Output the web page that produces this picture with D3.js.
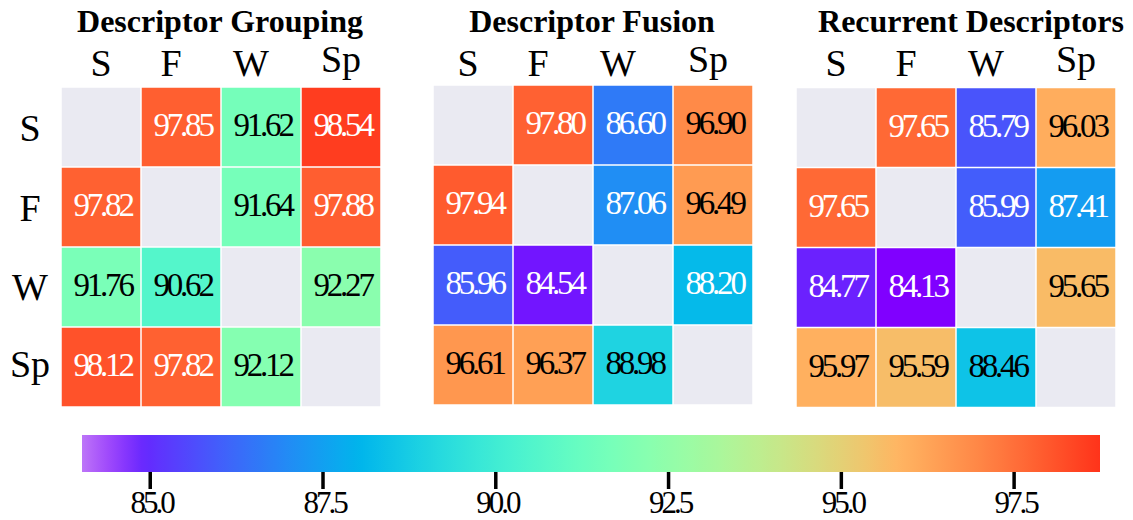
<!DOCTYPE html>
<html>
<head>
<meta charset="utf-8">
<script src="https://cdn.jsdelivr.net/npm/d3@7"></script>
<style>
  html, body { margin: 0; padding: 0; background: #fff; }
  svg { display: block; }
</style>
</head>
<body>
<svg id="chart" width="1133" height="520"></svg>
<script>
// ---- data ---------------------------------------------------------------
const descriptors = ["S", "F", "W", "Sp"];
const panelTitles = ["Descriptor Grouping", "Descriptor Fusion", "Recurrent Descriptors"];

// rows = first descriptor, columns = second descriptor; diagonal is empty
const groupingScores = [
  [null, 97.85, 91.62, 98.54],
  [97.82, null, 91.64, 97.88],
  [91.76, 90.62, null, 92.27],
  [98.12, 97.82, 92.12, null]
];
const fusionScores = [
  [null, 97.80, 86.60, 96.90],
  [97.94, null, 87.06, 96.49],
  [85.96, 84.54, null, 88.20],
  [96.61, 96.37, 88.98, null]
];
const recurrentScores = [
  [null, 97.65, 85.79, 96.03],
  [97.65, null, 85.99, 87.41],
  [84.77, 84.13, null, 95.65],
  [95.97, 95.59, 88.46, null]
];
const colorbarTicks = [85.0, 87.5, 90.0, 92.5, 95.0, 97.5];

// ---- colour scale ---------------------------------------------------------
const allScores = [groupingScores, fusionScores, recurrentScores];
const vmin = d3.min(allScores.flat(2).filter(v => v != null));
const vmax = 99.75;

// gnuplot-style "rainbow" ramp: purple -> blue -> cyan -> green -> orange -> red
function rainbow(t) {
  t = Math.max(0, Math.min(1, t));
  const r = Math.min(1, Math.abs(2 * t - 0.5));
  const g = Math.sin(Math.PI * t);
  const b = Math.cos(Math.PI * t / 2);
  return d3.rgb(r * 255, g * 255, b * 255).formatHex();
}
const color = d3.scaleSequential(rainbow).domain([vmin, vmax]).clamp(true);
const norm = d3.scaleLinear().domain([vmin, vmax]);

// ---- layout ---------------------------------------------------------------
const SERIF = "'Liberation Serif', 'Times New Roman', Times, serif";
const panelSize = 320;
const panelLayout = [
  { left: 61,  top: 87,   titleShift: -1, labelShift: 0,  rowLabels: true },
  { left: 433, top: 85,   titleShift: -1, labelShift: -5, rowLabels: false },
  { left: 796, top: 87.5, titleShift: 15, labelShift: 0,  rowLabels: false }
];
const colLabelNudge = [0, -10, -10, 0];
const emptyFill = "#eaeaf2";
const cbar = { x0: 82, x1: 1100, y: 435, h: 37, domain: [84.02, 98.75] };

const svg = d3.select("#chart");

// measure glyph ink so text can be centred on its visible extent
const mctx = document.createElement("canvas").getContext("2d");
function inkOffset(text, font) {
  mctx.font = font;
  const m = mctx.measureText(text);
  return (m.actualBoundingBoxAscent - m.actualBoundingBoxDescent) / 2;
}

const x = d3.scaleBand().domain(descriptors).range([0, panelSize]);
const y = d3.scaleBand().domain(descriptors).range([0, panelSize]);
const bw = x.bandwidth();
const fmt = d3.format(".2f");

const numFont = `33px ${SERIF}`;
const labelFont = `38px ${SERIF}`;
const titleFont = `bold 32px ${SERIF}`;

panelLayout.forEach((lay, p) => {
  const scores = allScores[p];
  const g = svg.append("g").attr("transform", `translate(${lay.left},${lay.top})`);

  const cells = [];
  scores.forEach((row, i) => row.forEach((v, j) => cells.push({ r: descriptors[i], c: descriptors[j], v })));

  g.selectAll("rect.cell").data(cells).join("rect")
    .attr("class", "cell")
    .attr("x", d => x(d.c) + 0.75)
    .attr("y", d => y(d.r) + 0.75)
    .attr("width", bw - 1.5)
    .attr("height", bw - 1.5)
    .attr("fill", d => d.v == null ? emptyFill : color(d.v));

  g.selectAll("text.val").data(cells.filter(d => d.v != null)).join("text")
    .attr("class", "val")
    .attr("x", d => x(d.c) + bw / 2 + 1.6)
    .attr("y", d => y(d.r) + bw / 2 + inkOffset(fmt(d.v), numFont) - 2)
    .attr("text-anchor", "middle")
    .style("font", numFont)
    .style("letter-spacing", "-3.2px")
    .attr("fill", d => { const t = norm(d.v); return (t < 0.27 || t > 0.84) ? "#ffffff" : "#000000"; })
    .text(d => fmt(d.v));

  // column headers
  g.selectAll("text.col").data(descriptors).join("text")
    .attr("class", "col")
    .attr("x", (d, j) => x(d) + bw / 2 + colLabelNudge[j] + lay.labelShift)
    .attr("y", d => 63.5 - lay.top + inkOffset(d, labelFont))
    .attr("text-anchor", "middle")
    .style("font", labelFont)
    .attr("fill", "#000")
    .text(d => d);

  // row headers on the first panel only
  if (lay.rowLabels) {
    g.selectAll("text.row").data(descriptors).join("text")
      .attr("class", "row")
      .attr("x", 30 - lay.left)
      .attr("y", d => y(d) + bw / 2 + 1 + inkOffset(d, labelFont))
      .attr("text-anchor", "middle")
      .style("font", labelFont)
      .attr("fill", "#000")
      .text(d => d);
  }

  // panel title
  g.append("text")
    .attr("x", panelSize / 2 + lay.titleShift)
    .attr("y", 32 - lay.top)
    .attr("text-anchor", "middle")
    .style("font", titleFont)
    .attr("fill", "#000")
    .text(panelTitles[p]);
});

// ---- colour bar -----------------------------------------------------------
const cbScale = d3.scaleLinear().domain(cbar.domain).range([cbar.x0, cbar.x1]);
const grad = svg.append("defs").append("linearGradient")
  .attr("id", "cbgrad").attr("x1", "0%").attr("x2", "100%").attr("y1", "0%").attr("y2", "0%");
const nStops = 120;
d3.range(nStops + 1).forEach(k => {
  const v = cbar.domain[0] + (cbar.domain[1] - cbar.domain[0]) * k / nStops;
  const fade = Math.max(0, Math.min(1, (v - cbar.domain[0]) / 0.9));
  const c = d3.interpolateRgb("#bc76f8", color(v))(fade);
  grad.append("stop").attr("offset", `${(100 * k / nStops).toFixed(3)}%`).attr("stop-color", c);
});
svg.append("rect")
  .attr("x", cbar.x0).attr("y", cbar.y)
  .attr("width", cbar.x1 - cbar.x0).attr("height", cbar.h)
  .attr("fill", "url(#cbgrad)");

const axis = svg.append("g")
  .attr("transform", `translate(0,${cbar.y + cbar.h})`)
  .call(d3.axisBottom(cbScale).tickValues(colorbarTicks).tickFormat(d3.format(".1f")).tickSize(17).tickPadding(0));
axis.select(".domain").remove();
axis.selectAll(".tick line").attr("stroke", "#000").attr("stroke-width", 3.5);
axis.selectAll(".tick text")
  .attr("fill", "#000")
  .attr("dy", null)
  .attr("x", 1.5)
  .attr("y", 41)
  .style("font", `31px ${SERIF}`)
  .style("letter-spacing", "-3px");
</script>
</body>
</html>
